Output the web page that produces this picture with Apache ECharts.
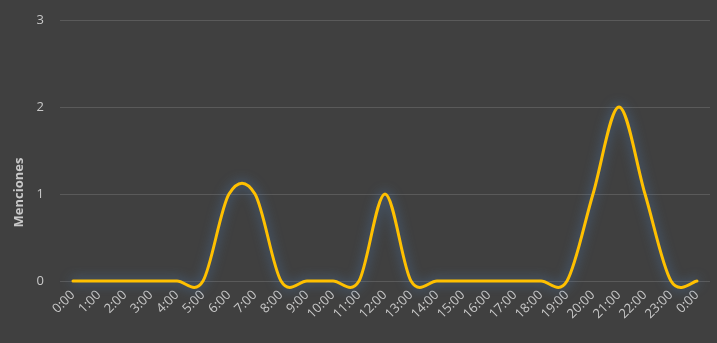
<!DOCTYPE html>
<html><head><meta charset="utf-8">
<script src="https://cdn.jsdelivr.net/npm/echarts@6/dist/echarts.min.js"></script>
<style>html,body{margin:0;padding:0;background:#404040;}#c{width:717px;height:343px;}</style>
</head><body><div id="c"></div>
<script>
var hours = ['0:00','1:00','2:00','3:00','4:00','5:00','6:00','7:00','8:00','9:00','10:00','11:00','12:00','13:00','14:00','15:00','16:00','17:00','18:00','19:00','20:00','21:00','22:00','23:00','0:00'];
var menciones = [0,0,0,0,0,0,1,1,0,0,0,0,1,0,0,0,0,0,0,0,1,2,1,0,0];
var yTicks = [0,1,2,3];
var chart = echarts.init(document.getElementById('c'));
function renderSpline(params, api) {
  if (params.dataIndex !== 0) return null;
  var n = menciones.length;
  var pts = [];
  for (var i = 0; i < n; i++) pts.push(api.coord([i, menciones[i]]));
  function P(k) { return pts[Math.max(0, Math.min(n - 1, k))]; }
  var d = 'M' + pts[0][0] + ' ' + pts[0][1];
  for (var j = 0; j < n - 1; j++) {
    var p0 = P(j - 1), p1 = P(j), p2 = P(j + 1), p3 = P(j + 2);
    var c1x = p1[0] + (p2[0] - p0[0]) / 6, c1y = p1[1] + (p2[1] - p0[1]) / 6;
    var c2x = p2[0] - (p3[0] - p1[0]) / 6, c2y = p2[1] - (p3[1] - p1[1]) / 6;
    d += ' C' + c1x + ' ' + c1y + ' ' + c2x + ' ' + c2y + ' ' + p2[0] + ' ' + p2[1];
  }
  return {
    type: 'path',
    shape: {pathData: d},
    style: {fill: null, stroke: '#FFC000', lineWidth: 3, lineCap: 'round', lineJoin: 'round',
            shadowColor: 'rgba(79,129,189,0.85)', shadowBlur: 12}
  };
}
chart.setOption({
  backgroundColor: '#404040',
  animation: false,
  grid: {left: 60, right: 7, top: 20, bottom: 62},
  xAxis: {
    type: 'category', data: hours, boundaryGap: true,
    axisLine: {show: false}, axisTick: {show: false},
    axisLabel: {color: '#c8c8c8', fontFamily: 'Open Sans', fontSize: 13, rotate: 45, interval: 0, margin: 12}
  },
  yAxis: {
    type: 'value', min: yTicks[0], max: yTicks[yTicks.length-1], interval: 1,
    name: 'Menciones', nameLocation: 'middle', nameGap: 33,
    nameTextStyle: {color: '#c8c8c8', fontFamily: 'Open Sans', fontSize: 13, fontWeight: 'bold', padding: [0, 84, 0, 0]},
    axisLine: {show: false}, axisTick: {show: false},
    axisLabel: {color: '#c8c8c8', fontFamily: 'Open Sans', fontSize: 13, margin: 16},
    splitLine: {lineStyle: {color: '#5a5a5a', width: 1}}
  },
  series: [{
    type: 'custom', clip: false,
    data: menciones.map(function (v, i) { return [i, v]; }),
    encode: {x: 0, y: 1},
    renderItem: renderSpline
  }]
});
</script></body></html>
